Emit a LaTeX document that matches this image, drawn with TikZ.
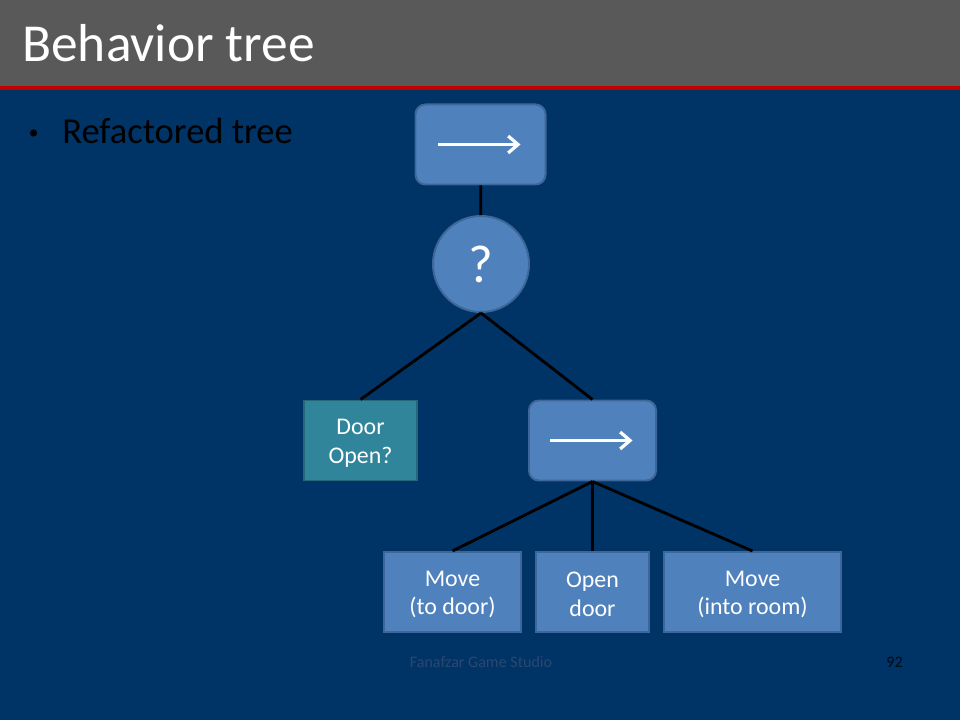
\documentclass[tikz,border=0pt]{standalone}
\usepackage{fontspec}
\setmainfont{Carlito}
\usetikzlibrary{arrows.meta}
\definecolor{slideBlue}{RGB}{0,51,102}
\definecolor{titleGray}{RGB}{89,89,89}
\definecolor{titleRed}{RGB}{192,0,0}
\definecolor{nodeBlue}{RGB}{79,129,189}
\definecolor{nodeEdge}{RGB}{62,102,152}
\definecolor{condTeal}{RGB}{49,133,155}
\definecolor{condEdge}{RGB}{38,104,122}
\definecolor{footGray}{RGB}{42,72,112}
\begin{document}
\begin{tikzpicture}[x=0.025cm,y=-0.025cm,
  seqBox/.style={draw=nodeEdge,fill=nodeBlue,line width=1.4pt,rounded corners=7pt,minimum height=2cm},
  selCircle/.style={circle,draw=nodeEdge,fill=nodeBlue,line width=1.4pt,minimum size=2.4cm,text=white,font=\fontsize{38}{40}\selectfont},
  actBox/.style={draw=nodeEdge,fill=nodeBlue,line width=1.4pt,minimum height=2cm,text=white,align=center,font=\fontsize{17}{20.5}\selectfont},
  condBox/.style={actBox,draw=condEdge,fill=condTeal},
  seqArrow/.style={white,line width=2.3pt,-{Straight Barb[length=7pt,width=12pt,line width=2.3pt]}},
  treeLink/.style={black,line width=2pt}]
\useasboundingbox (0,0) rectangle (960,720);
\fill[slideBlue] (0,0) rectangle (960,720);
\fill[titleGray] (0,0) rectangle (960,86);
\fill[titleRed] (0,86) rectangle (960,90);
\node[anchor=base west,inner sep=0,text=white,font=\fontsize{38}{40}\selectfont] (title) at (22,62) {Behavior tree};
\node[circle,fill=black,inner sep=0,minimum size=0.18cm] (bullet) at (33.5,133) {};
\node[anchor=base west,inner sep=0,font=\fontsize{26}{30}\selectfont] (item) at (62,144) {Refactored tree};
\node[seqBox,minimum width=3.25cm] (seqTop) at (480.5,144.5) {};
\node[selCircle] (selector) at (481,264) {?};
\node[condBox,minimum width=2.825cm] (doorOpen) at (360.5,440.5) {\strut Door\\Open?};
\node[seqBox,minimum width=3.175cm] (seqDoor) at (592.5,440.5) {};
\node[actBox,minimum width=3.425cm] (moveToDoor) at (452.5,592) {\strut Move\\(to door)};
\node[actBox,minimum width=2.825cm] (openDoor) at (592.5,592) {\strut Open\\door};
\node[actBox,minimum width=4.425cm] (moveIntoRoom) at (752.5,592) {\strut Move\\(into room)};
\draw[seqArrow] ([xshift=-1.05cm]seqTop.center) -- ([xshift=1cm]seqTop.center);
\draw[seqArrow] ([xshift=-1.05cm]seqDoor.center) -- ([xshift=1cm]seqDoor.center);
\draw[treeLink] (seqTop) -- (selector);
\draw[treeLink] (selector.south) -- (doorOpen.north);
\draw[treeLink] (selector.south) -- (seqDoor.north);
\draw[treeLink] (seqDoor.south) -- (moveToDoor.north);
\draw[treeLink] (seqDoor.south) -- (openDoor.north);
\draw[treeLink] (seqDoor.south) -- (moveIntoRoom.north);
\node[anchor=base,inner sep=0,text=footGray,font=\fontsize{11.4}{13}\selectfont] (footer) at (481,667) {Fanafzar Game Studio};
\node[anchor=base east,inner sep=0,text=black!80!slideBlue,font=\fontsize{11.4}{13}\selectfont] (pageNo) at (903,667) {92};
\end{tikzpicture}
\end{document}
